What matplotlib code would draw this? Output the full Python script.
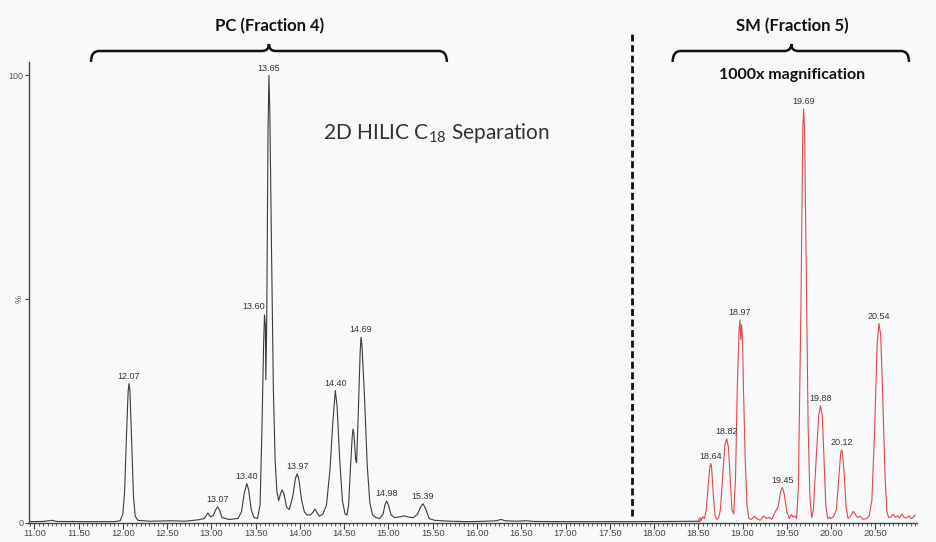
import numpy as np
import matplotlib
matplotlib.use("Agg")
import matplotlib.pyplot as plt
from matplotlib.path import Path
from matplotlib.patches import PathPatch
from matplotlib.ticker import MultipleLocator, FormatStrFormatter

plt.rcParams['font.family'] = ['Liberation Sans', 'DejaVu Sans']
plt.rcParams['mathtext.fontset'] = 'custom'
plt.rcParams['mathtext.rm'] = 'Lato'

# PC fraction trace (retention time in min, relative intensity %)
pc_time = [10.95, 11.10, 11.20, 11.25, 11.60, 11.90, 11.97, 12.00, 12.02, 12.04,
           12.06, 12.07, 12.08, 12.10, 12.12, 12.14, 12.17, 12.30, 12.55, 12.70,
           12.85, 12.92, 12.96, 12.99, 13.02, 13.05, 13.07, 13.09, 13.12, 13.20,
           13.30, 13.34, 13.37, 13.40, 13.42, 13.45, 13.48, 13.52, 13.55, 13.57,
           13.59, 13.60, 13.61, 13.615, 13.625, 13.64, 13.65, 13.66, 13.68, 13.70,
           13.72, 13.74, 13.76, 13.78, 13.80, 13.82, 13.85, 13.88, 13.92, 13.95,
           13.97, 13.99, 14.02, 14.05, 14.08, 14.12, 14.15, 14.17, 14.19, 14.22,
           14.26, 14.30, 14.34, 14.37, 14.40, 14.42, 14.45, 14.48, 14.51, 14.53,
           14.55, 14.57, 14.59, 14.60, 14.61, 14.63, 14.64, 14.66, 14.68, 14.69,
           14.70, 14.73, 14.76, 14.79, 14.82, 14.86, 14.90, 14.94, 14.96, 14.98,
           15.00, 15.03, 15.07, 15.13, 15.18, 15.23, 15.28, 15.33, 15.36, 15.39,
           15.42, 15.46, 15.52, 15.70, 15.90, 16.10, 16.22, 16.27, 16.32, 16.45,
           16.55, 16.65, 17.00, 17.40, 17.80, 18.20, 18.52]
pc_int = [0.3, 0.35, 0.6, 0.35, 0.3, 0.3, 0.5, 2.0, 7, 19,
          29.5, 31.2, 29.5, 18, 6, 1.5, 0.6, 0.4, 0.5, 0.4,
          0.7, 1.0, 2.2, 1.4, 1.6, 3.0, 3.6, 3.0, 1.2, 0.8,
          1.0, 2.5, 6.5, 8.8, 7.5, 3.0, 1.2, 1.0, 4, 20,
          40, 46.5, 44, 32, 45, 88, 100, 92, 60, 30,
          14, 7, 5, 6.5, 7.4, 6.5, 3.5, 3.0, 6, 10,
          11, 9.5, 5, 2.5, 1.8, 1.8, 2.5, 3.1, 2.4, 1.5,
          2.0, 4, 12, 22, 29.6, 26, 14, 5, 2.0, 1.8,
          4, 12, 19, 21, 20, 14, 13.5, 25, 38, 41.5,
          40, 28, 13, 4.5, 1.8, 1.2, 1.0, 2.0, 4, 4.9,
          4, 1.8, 1.2, 1.4, 1.6, 1.3, 1.2, 2.0, 3.5, 4.3,
          3.2, 1.0, 0.6, 0.4, 0.3, 0.4, 0.5, 0.8, 0.5, 0.4,
          0.5, 0.35, 0.3, 0.3, 0.3, 0.35, 0.4]

# SM fraction trace, 1000x magnified
sm_time = [18.50, 18.52, 18.53, 18.55, 18.57, 18.59, 18.61, 18.63, 18.64, 18.65,
           18.67, 18.69, 18.71, 18.73, 18.75, 18.77, 18.80, 18.82, 18.84, 18.86,
           18.88, 18.90, 18.92, 18.94, 18.96, 18.97, 18.98, 18.99, 19.00, 19.01,
           19.03, 19.05, 19.07, 19.10, 19.13, 19.16, 19.20, 19.24, 19.27, 19.30,
           19.33, 19.37, 19.40, 19.43, 19.45, 19.47, 19.50, 19.53, 19.55, 19.57,
           19.59, 19.61, 19.63, 19.66, 19.68, 19.69, 19.70, 19.72, 19.74, 19.76,
           19.78, 19.80, 19.83, 19.86, 19.88, 19.90, 19.92, 19.94, 19.96, 19.98,
           20.00, 20.03, 20.06, 20.09, 20.11, 20.12, 20.13, 20.15, 20.17, 20.19,
           20.22, 20.25, 20.27, 20.30, 20.33, 20.36, 20.40, 20.43, 20.46, 20.49,
           20.52, 20.54, 20.56, 20.58, 20.61, 20.63, 20.65, 20.68, 20.70, 20.72,
           20.75, 20.77, 20.80, 20.82, 20.85, 20.88, 20.90, 20.93, 20.95]
sm_int = [0.6, 1.2, 0.5, 1.4, 1.0, 3, 8, 12.5, 13.3, 12.5,
          6, 1.5, 0.8, 1.2, 3, 9, 17.5, 18.8, 17, 10,
          3, 2, 10, 30, 43, 45.4, 41, 44.3, 40, 30,
          14, 4, 1.0, 0.8, 1.5, 1.0, 0.6, 1.6, 1.0, 1.3,
          0.8, 2.5, 3.5, 7, 7.9, 6.5, 2.5, 1.0, 1.9, 1.3,
          1.6, 1.0, 8, 50, 88, 92.5, 88, 55, 22, 6,
          1.2, 3, 14, 24, 26.2, 24, 14, 4, 1.0, 1.3,
          1.0, 1.5, 3, 11, 16, 16.3, 15.5, 10, 3.5, 1.0,
          1.5, 2.6, 2.0, 1.2, 1.5, 0.8, 1.0, 1.6, 5, 20,
          40, 44.6, 42, 30, 10, 2.5, 1.2, 1.4, 2.0, 1.3,
          1.6, 1.1, 2.0, 1.3, 1.1, 1.6, 1.0, 1.3, 1.8]

pc_peaks = [12.07, 13.07, 13.40, 13.60, 13.65, 13.97, 14.40, 14.69, 14.98, 15.39]
sm_peaks = [18.64, 18.82, 18.97, 19.45, 19.69, 19.88, 20.12, 20.54]

W, H = 936, 542
fig = plt.figure(figsize=(W / 100, H / 100), dpi=100)
bg = '#f8f9fb'
fig.patch.set_facecolor(bg)
ax = fig.add_axes([29 / W, 19 / H, 888 / W, 461 / H])
ax.set_facecolor(bg)

ax.plot(pc_time, pc_int, color='#3a3a3a', lw=0.8)
ax.plot(sm_time, sm_int, color='#e2474c', lw=0.8)

ax.set_xlim(10.94, 20.97)
ax.set_ylim(0, 103)

for s in ['top', 'right']:
    ax.spines[s].set_visible(False)
for s in ['left', 'bottom']:
    ax.spines[s].set_color('#444444')
    ax.spines[s].set_linewidth(1.0)

ax.xaxis.set_major_locator(MultipleLocator(0.5))
ax.xaxis.set_minor_locator(MultipleLocator(0.05))
ax.xaxis.set_major_formatter(FormatStrFormatter('%.2f'))
ax.tick_params(axis='x', which='major', length=4, width=0.8, color='#444444',
               labelsize=6.8, labelcolor='#444444', pad=0.5)
ax.tick_params(axis='x', which='minor', length=2, width=0.6, color='#444444')
ax.set_yticks([0, 50, 100])
ax.set_yticklabels(['0', '%', '100'])
ax.tick_params(axis='y', length=3, width=0.8, color='#444444',
               labelsize=6.5, labelcolor='#555555', pad=1)
ax.get_yticklabels()[1].set_rotation(90)
ax.get_yticklabels()[1].set_va('center')


def label_peaks(times, trace_t, trace_y, offsets):
    for t in times:
        y = np.interp(t, trace_t, trace_y)
        dx, dy = offsets.get(t, (0, 2))
        ax.annotate(f'{t:.2f}', (t, y), xytext=(dx, dy), textcoords='offset points',
                    ha='center', va='bottom', fontsize=6.5, color='#333333')


label_peaks(pc_peaks, pc_time, pc_int, {13.60: (-8, 3)})
label_peaks(sm_peaks, sm_time, sm_int, {})

# divider between the two fractions
ax.plot([17.75, 17.75], [1.5, 110], color='#111111', lw=2, ls=(0, (2.5, 1.3)),
        clip_on=False)


def brace(x0, x1, xc, y_top):
    # curly bracket drawn in display pixels, y measured from the top edge
    px0 = ax.transData.transform((x0, 0))[0]
    px1 = ax.transData.transform((x1, 0))[0]
    pxc = ax.transData.transform((xc, 0))[0]
    yl = H - y_top
    yh = yl - 11
    yt = yl + 7
    verts = [(px0, yh), (px0, yl), (px0 + 8, yl),
             (pxc - 7, yl), (pxc, yl), (pxc, yt),
             (pxc, yl), (pxc + 7, yl),
             (px1 - 8, yl), (px1, yl), (px1, yh)]
    codes = [Path.MOVETO, Path.CURVE3, Path.CURVE3,
             Path.LINETO, Path.CURVE3, Path.CURVE3,
             Path.CURVE3, Path.CURVE3,
             Path.LINETO, Path.CURVE3, Path.CURVE3]
    patch = PathPatch(Path(verts, codes), fill=False, lw=1.8, ec='#111111',
                      transform=None)
    fig.add_artist(patch)


brace(11.64, 15.66, 13.65, 51)
brace(18.21, 20.88, 19.55, 51)

fig.text(270 / W, 1 - 26 / H, 'PC (Fraction 4)', ha='center', va='center',
         fontsize=12, fontweight='bold', family='Lato', color='#111111')
fig.text(792 / W, 1 - 26 / H, 'SM (Fraction 5)', ha='center', va='center',
         fontsize=12, fontweight='bold', family='Lato', color='#111111')
fig.text(792 / W, 1 - 75 / H, '1000x magnification', ha='center', va='center',
         fontsize=11.5, fontweight='bold', family='Lato', color='#111111')
fig.text(436 / W, 1 - 133 / H, r'2D HILIC C$_{\mathrm{18}}$ Separation',
         ha='center', va='center', fontsize=15, family='Lato', color='#333333')

fig.savefig('out.png', dpi=100, facecolor=bg)
